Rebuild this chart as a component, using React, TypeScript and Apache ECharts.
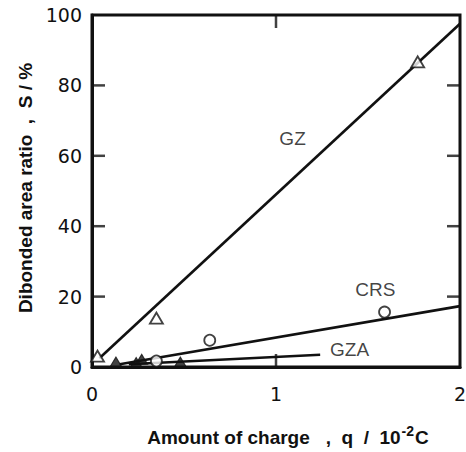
import React, { useEffect, useRef } from "react";
import * as echarts from "echarts";

// Open triangles: GZ
const gzQ = [0.03, 0.35, 1.77];
const gzS = [3.1, 13.9, 86.7];
// Open circles: CRS
const crsQ = [0.35, 0.64, 1.59];
const crsS = [1.7, 7.6, 15.6];
// Filled triangles: GZA
const gzaQ = [0.13, 0.24, 0.27, 0.48];
const gzaS = [1.4, 1.3, 2.2, 1.4];

// Fitted straight lines (end points)
const gzFitQ = [0.04, 2.0];
const gzFitS = [2.5, 97.5];
const crsFitQ = [0.15, 2.0];
const crsFitS = [0.8, 17.3];
const gzaFitQ = [0.2, 1.24];
const gzaFitS = [0.8, 3.5];

// Curve names placed beside their lines
const curveNames = ["GZ", "CRS", "GZA"];
const nameQ = [1.09, 1.54, 1.4];
const nameS = [64.8, 21.9, 5.1];

const xTicks = [0, 1, 2];
const yTicks = [0, 20, 40, 60, 80, 100];

const pairs = (xs: number[], ys: number[]) => xs.map((x, i) => [x, ys[i]]);

export default function App() {
  const ref = useRef<HTMLDivElement>(null);

  useEffect(() => {
    if (!ref.current) return;
    const chart = echarts.init(ref.current, undefined, { renderer: "svg" });
    const black = "#111";
    const xMin = xTicks[0];
    const xMax = xTicks[xTicks.length - 1];
    const yMin = yTicks[0];
    const yMax = yTicks[yTicks.length - 1];
    const tickLen = 13;
    const tickW = 2.5;

    const tickFont = {
      color: black,
      fontFamily: "DejaVu Sans",
      fontSize: 19,
    };
    const segment = (pts: number[][], width: number) => ({
      type: "line",
      data: pts,
      symbol: "none",
      silent: true,
      lineStyle: { color: black, width },
      z: 3,
    });
    // Inward frame ticks drawn as thin bar symbols anchored on the frame edges
    const tickMarks = (pts: number[][], size: number[], offset: number[]) => ({
      type: "scatter",
      data: pts,
      symbol: "rect",
      symbolSize: size,
      symbolOffset: offset,
      silent: true,
      clip: false,
      itemStyle: { color: black, borderWidth: 0 },
      z: 6,
    });
    const mainText = {
      fontFamily: "Liberation Sans",
      fontWeight: "bold",
      fontSize: 19,
      fill: black,
    };

    const innerX = xTicks.slice(1, -1);
    const innerY = yTicks.slice(1, -1);
    const half = tickLen / 2;

    const axisLine = { show: true, onZero: false, lineStyle: { color: black, width: 3 } };

    chart.setOption({
      animation: false,
      backgroundColor: "#fff",
      grid: {
        left: 92,
        top: 15,
        width: 368,
        height: 352,
        containLabel: false,
        outerBoundsMode: "none",
        show: true,
        borderColor: black,
        borderWidth: 3,
      },
      xAxis: {
        type: "value",
        min: xMin,
        max: xMax,
        interval: 1,
        axisLine,
        axisTick: { show: false },
        splitLine: { show: false },
        axisLabel: { ...tickFont, margin: 17, formatter: (v: number) => String(v) },
      },
      yAxis: {
        type: "value",
        min: yMin,
        max: yMax,
        interval: 20,
        axisLine,
        axisTick: { show: false },
        splitLine: { show: false },
        axisLabel: { ...tickFont, margin: 10 },
      },
      series: [
        tickMarks(innerX.map((v) => [v, yMin]), [tickW, tickLen], [0, -half]),
        tickMarks(innerX.map((v) => [v, yMax]), [tickW, tickLen], [0, half]),
        tickMarks(innerY.map((v) => [xMin, v]), [tickLen, tickW], [half, 0]),
        tickMarks(innerY.map((v) => [xMax, v]), [tickLen, tickW], [-half, 0]),
        segment(pairs(gzFitQ, gzFitS), 2.6),
        segment(pairs(crsFitQ, crsFitS), 2.6),
        segment(pairs(gzaFitQ, gzaFitS), 2.6),
        {
          type: "scatter",
          data: pairs(gzQ, gzS),
          symbol: "triangle",
          symbolSize: [13, 11],
          itemStyle: { color: "#fff", borderColor: black, borderWidth: 1.8 },
          z: 4,
        },
        {
          type: "scatter",
          data: pairs(crsQ, crsS),
          symbol: "circle",
          symbolSize: 11,
          itemStyle: { color: "#fff", borderColor: black, borderWidth: 1.8 },
          z: 4,
        },
        {
          type: "scatter",
          data: pairs(gzaQ, gzaS),
          symbol: "triangle",
          symbolSize: [12, 10],
          itemStyle: { color: black, borderColor: black, borderWidth: 1 },
          z: 4,
        },
        {
          type: "scatter",
          data: curveNames.map((n, i) => ({ name: n, value: [nameQ[i], nameS[i]] })),
          symbolSize: 0,
          silent: true,
          label: {
            show: true,
            position: "inside",
            formatter: (p: any) => p.name,
            color: black,
            fontFamily: "Liberation Sans",
            fontSize: 19,
          },
          z: 5,
        },
      ],
      graphic: [
        {
          type: "text",
          x: 25,
          y: 188,
          rotation: Math.PI / 2,
          style: {
            text: "Dibonded area ratio  ,  S / %",
            ...mainText,
            align: "center",
            verticalAlign: "middle",
          },
        },
        {
          type: "text",
          x: 288,
          y: 437,
          style: {
            text: "{a|Amount of charge   ,  q  /  10}{s|-2}{a|C}",
            fill: black,
            align: "center",
            verticalAlign: "middle",
            rich: {
              a: { ...mainText },
              s: {
                ...mainText,
                fontSize: 14,
                verticalAlign: "top",
                padding: [0, 1, 12, 1],
              },
            },
          },
        },
      ],
    });

    return () => chart.dispose();
  }, []);

  return (
    <div
      ref={ref}
      style={{ position: "fixed", left: 0, top: 0, width: 466, height: 452 }}
    />
  );
}
